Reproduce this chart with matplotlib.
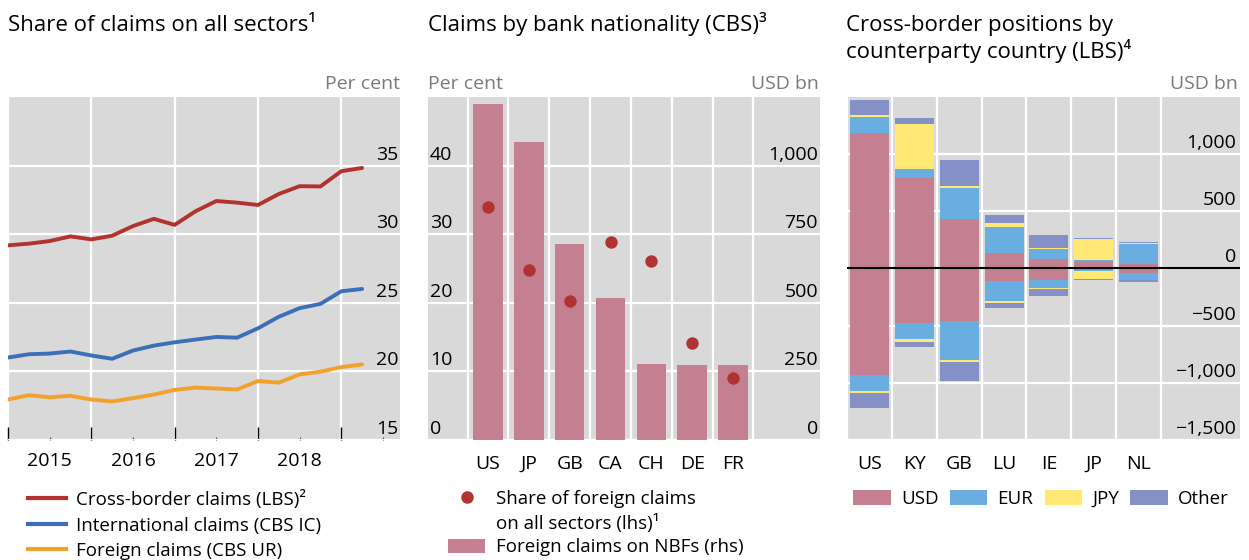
import matplotlib
matplotlib.use("Agg")
import matplotlib.pyplot as plt
import numpy as np
from matplotlib.lines import Line2D
from matplotlib.patches import Patch
from matplotlib import transforms

plt.rcParams['font.family'] = ['Open Sans', 'DejaVu Sans']

# ---------------- data ----------------
# Panel 1: quarterly, 2015 Q1 .. 2019 Q2 positions
quarters = [2015.0 + 0.25 * i for i in range(18)]
cross_border = [29.19, 29.31, 29.50, 29.84, 29.62, 29.89, 30.59, 31.12, 30.68,
                31.67, 32.42, 32.30, 32.13, 32.93, 33.50, 33.48, 34.59, 34.83]
international = [21.01, 21.25, 21.30, 21.45, 21.16, 20.92, 21.52, 21.88, 22.12,
                 22.32, 22.51, 22.46, 23.14, 23.98, 24.61, 24.92, 25.84, 26.01]
foreign = [17.95, 18.26, 18.12, 18.22, 17.95, 17.81, 18.05, 18.31, 18.65,
           18.82, 18.75, 18.68, 19.30, 19.18, 19.78, 19.98, 20.31, 20.51]
year_labels = ['2015', '2016', '2017', '2018', '']
p1_yticks = [15, 20, 25, 30, 35]

# Panel 2
nat_countries = ['US', 'JP', 'GB', 'CA', 'CH', 'DE', 'FR']
nbf_claims = [1224, 1087, 714, 516, 277, 273, 273]          # USD bn (rhs)
share_foreign = [34.0, 24.8, 20.2, 28.9, 26.1, 14.1, 9.1]   # per cent (lhs)
p2_left_ticks = [0, 10, 20, 30, 40]
p2_right_ticks = [0, 250, 500, 750, 1000]

# Panel 3
cp_countries = ['US', 'KY', 'GB', 'LU', 'IE', 'JP', 'NL']
currencies = ['USD', 'EUR', 'JPY', 'Other']
pos_usd = [1187, 795, 432, 138, 86, 63, 43]
pos_eur = [136, 78, 268, 225, 87, 15, 173]
pos_jpy = [17, 389, 23, 35, 9, 181, 9]
pos_oth = [130, 52, 228, 69, 112, 9, 9]
neg_usd = [-934, -475, -455, -112, -104, -17, -37]
neg_eur = [-138, -139, -349, -173, -69, -2, -67]
neg_jpy = [-17, -26, -17, -18, -9, -76, 0]
neg_oth = [-130, -43, -165, -43, -60, -9, -17]
p3_yticks = [-1500, -1000, -500, 0, 500, 1000]

# ---------------- style ----------------
BG = '#d9d9d9'
RED = '#b2322e'
BLUE = '#3b70b8'
ORANGE = '#f2a22c'
PINK = '#c48090'
DOT = '#b03232'
C_USD, C_EUR, C_JPY, C_OTH = '#c48090', '#6aade0', '#ffe873', '#8490c6'
UNIT = '#7a7a7a'
TICK_FS = 14
TITLE_FS = 16
LEG_FS = 13.5

W, H = 1249, 560
fig = plt.figure(figsize=(W / 100, H / 100), dpi=100)


def fx(px):
    return px / W


def fy(py):
    return 1 - py / H


bottom = fy(440)
height = (440 - 97) / H
ax1 = fig.add_axes([fx(8), bottom, fx(392), height])
ax2 = fig.add_axes([fx(428), bottom, fx(392), height])
ax3 = fig.add_axes([fx(847), bottom, fx(393), height])

for ax in (ax1, ax2, ax3):
    ax.set_facecolor(BG)
    for s in ax.spines.values():
        s.set_visible(False)
    ax.set_axisbelow(True)


def lift(tr):
    return tr + transforms.ScaledTranslation(0, 2 / 100, fig.dpi_scale_trans)


# ---------------- panel 1 ----------------
ax1.plot(quarters, cross_border, color=RED, lw=2.8, solid_capstyle='round')
ax1.plot(quarters, international, color=BLUE, lw=2.8, solid_capstyle='round')
ax1.plot(quarters, foreign, color=ORANGE, lw=2.8, solid_capstyle='round')
ax1.set_xlim(2015.0, 2019.705)
ax1.set_ylim(15, 40)
ax1.set_yticks(p1_yticks)
ax1.tick_params(axis='y', left=False, labelleft=False)
ax1.set_xticks([2015, 2016, 2017, 2018, 2019])
ax1.set_xticks([2015.5, 2016.5, 2017.5, 2018.5, 2019.5], minor=True)
ax1.set_xticklabels([''] * 5)
ax1.set_xticklabels(year_labels, minor=True)
ax1.tick_params(axis='x', which='major', direction='in', length=9.5, width=1.0,
                color='black', pad=4)
ax1.tick_params(axis='x', which='minor', direction='in', length=2.5, width=0.8,
                color='#444444', labelsize=TICK_FS, pad=9)
ax1.grid(True, which='major', color='white', lw=1.6)
tr1 = lift(transforms.blended_transform_factory(ax1.transAxes, ax1.transData))
for v in p1_yticks:
    ax1.text(0.995, v, str(v), transform=tr1, ha='right', va='bottom',
             fontsize=TICK_FS)

# ---------------- panel 2 ----------------
xc = np.arange(len(nat_countries))
ax2.bar(xc, nbf_claims, width=0.72, color=PINK, zorder=2)
ax2.set_ylim(0, 1250)
ax2.set_xlim(-1.47, 8.13)
ax2.set_yticks(p2_right_ticks)
ax2.set_xticks(np.arange(-0.5, len(nat_countries)), minor=False)
ax2.set_xticks(xc, minor=True)
ax2.set_xticklabels([''] * (len(nat_countries) + 1))
ax2.set_xticklabels(nat_countries, minor=True)
ax2.grid(True, which='major', color='white', lw=1.6)
ax2b = ax2.twinx()
for s in ax2b.spines.values():
    s.set_visible(False)
ax2b.scatter(xc, share_foreign, s=80, color=DOT, zorder=3, linewidths=0)
ax2b.set_ylim(0, 50)
ax2b.set_yticks([])
ax2b.tick_params(axis='y', left=False, right=False, labelleft=False, labelright=False)
ax2.tick_params(axis='y', left=False, right=False, labelleft=False, labelright=False)
ax2.tick_params(axis='x', which='both', length=0, labelsize=TICK_FS, pad=11)
trL = lift(transforms.blended_transform_factory(ax2.transAxes, ax2b.transData))
for v in p2_left_ticks:
    ax2b.text(0.005, v, str(v), transform=trL, ha='left', va='bottom',
              fontsize=TICK_FS)
trR = lift(transforms.blended_transform_factory(ax2.transAxes, ax2.transData))
for v in p2_right_ticks:
    ax2.text(0.995, v, f'{v:,}', transform=trR, ha='right', va='bottom',
             fontsize=TICK_FS)

# ---------------- panel 3 ----------------
xc3 = np.arange(len(cp_countries))
bw = 0.87
pos = [pos_usd, pos_eur, pos_jpy, pos_oth]
neg = [neg_usd, neg_eur, neg_jpy, neg_oth]
cols = [C_USD, C_EUR, C_JPY, C_OTH]
pb = np.zeros(len(cp_countries))
nb = np.zeros(len(cp_countries))
for p, n, c, lab in zip(pos, neg, cols, currencies):
    ax3.bar(xc3, p, bottom=pb, width=bw, color=c, zorder=2, label=lab)
    ax3.bar(xc3, n, bottom=nb, width=bw, color=c, zorder=2)
    pb += np.array(p)
    nb += np.array(n)
ax3.axhline(0, color='black', lw=1.5, zorder=3)
ax3.set_ylim(-1500, 1500)
ax3.set_xlim(-0.48, 8.26)
ax3.set_yticks(p3_yticks)
ax3.set_xticks(np.arange(-0.5, len(cp_countries)), minor=False)
ax3.set_xticks(xc3, minor=True)
ax3.set_xticklabels([''] * (len(cp_countries) + 1))
ax3.set_xticklabels(cp_countries, minor=True)
ax3.tick_params(axis='x', which='both', length=0, labelsize=TICK_FS, pad=11)
ax3.tick_params(axis='y', left=False, labelleft=False)
ax3.grid(True, which='major', color='white', lw=1.6)
tr3 = lift(transforms.blended_transform_factory(ax3.transAxes, ax3.transData))
for v in p3_yticks:
    lab = f'{v:,}'.replace('-', '\u2212')
    ax3.text(0.99, v, lab, transform=tr3, ha='right', va='bottom',
             fontsize=TICK_FS)

# ---------------- titles & units ----------------
fig.text(fx(8), fy(31), 'Share of claims on all sectors\u00b9', fontsize=TITLE_FS,
         va='baseline', ha='left')
fig.text(fx(428), fy(31), 'Claims by bank nationality (CBS)\u00b3', fontsize=TITLE_FS,
         va='baseline', ha='left')
fig.text(fx(846), fy(31), 'Cross-border positions by', fontsize=TITLE_FS,
         va='baseline', ha='left')
fig.text(fx(846), fy(58), 'counterparty country (LBS)\u2074', fontsize=TITLE_FS,
         va='baseline', ha='left')
fig.text(fx(400), fy(89), 'Per cent', fontsize=TICK_FS, color=UNIT,
         va='baseline', ha='right')
fig.text(fx(428), fy(89), 'Per cent', fontsize=TICK_FS, color=UNIT,
         va='baseline', ha='left')
fig.text(fx(819), fy(89), 'USD bn', fontsize=TICK_FS, color=UNIT,
         va='baseline', ha='right')
fig.text(fx(1238), fy(89), 'USD bn', fontsize=TICK_FS, color=UNIT,
         va='baseline', ha='right')

# ---------------- legends ----------------
h1 = [Line2D([], [], color=RED, lw=3),
      Line2D([], [], color=BLUE, lw=3),
      Line2D([], [], color=ORANGE, lw=3)]
l1 = ['Cross-border claims (LBS)\u00b2', 'International claims (CBS IC)',
      'Foreign claims (CBS UR)']
fig.legend(h1, l1, loc='upper left', bbox_to_anchor=(fx(28), fy(490)),
           frameon=False, fontsize=LEG_FS, borderpad=0, borderaxespad=0,
           handlelength=2.0, handletextpad=0.55, labelspacing=0.4)

h2 = [Line2D([], [], marker='o', ls='none', color=DOT, markersize=9, markeredgewidth=0),
      Line2D([], [], ls='none'),
      Patch(facecolor=PINK)]
l2 = ['Share of foreign claims', 'on all sectors (lhs)\u00b9',
      'Foreign claims on NBFs (rhs)']
fig.legend(h2, l2, loc='upper left', bbox_to_anchor=(fx(448), fy(490)),
           frameon=False, fontsize=LEG_FS, borderpad=0, borderaxespad=0,
           handlelength=2.0, handletextpad=0.55, labelspacing=0.3,
           handleheight=0.78)

h3 = [Patch(facecolor=c) for c in cols]
fig.legend(h3, currencies, loc='upper left', bbox_to_anchor=(fx(853), fy(490)),
           frameon=False, fontsize=LEG_FS, borderpad=0, borderaxespad=0, ncol=4,
           handlelength=2.0, handletextpad=0.55, columnspacing=0.6,
           handleheight=0.78)

fig.savefig('out.png', dpi=100)
